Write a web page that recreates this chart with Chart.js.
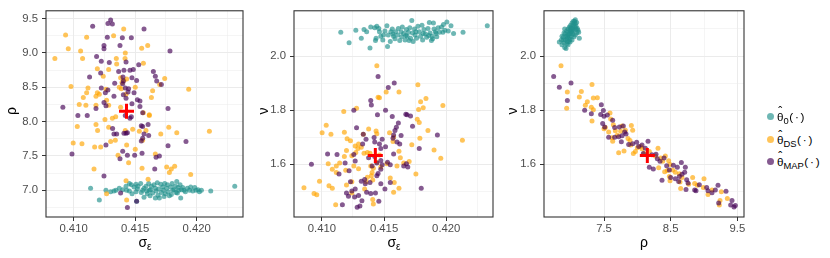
<!DOCTYPE html>
<html><head><meta charset="utf-8">
<script src="https://cdn.jsdelivr.net/npm/chart.js@4.4.1/dist/chart.umd.min.js"></script>
<style>
html,body{margin:0;padding:0;background:#fff;}
body{width:830px;height:258px;position:relative;overflow:hidden;font-family:"Liberation Sans",Arial,sans-serif;}
.cv{position:absolute;top:0;height:258px;width:250px;}
.t{position:absolute;color:#000;font-size:14px;line-height:14px;white-space:nowrap;}
.t sub{font-size:10px;vertical-align:-3px;line-height:0;}
.yt{position:absolute;color:#000;font-size:14px;line-height:14px;transform:translate(-50%,-50%) rotate(-90deg);}
.key{position:absolute;width:7px;height:7px;border-radius:50%;}
.lg{position:absolute;color:#000;font-size:11.7px;line-height:12px;white-space:nowrap;}
.lg sub{font-size:9.4px;vertical-align:-3px;line-height:0;}
.lg .th{position:relative;display:inline-block;}
.lg .hat{position:absolute;left:0;right:0;top:-4.5px;text-align:center;font-size:12px;line-height:12px;}
.lg .arg{letter-spacing:1.8px;margin-left:0.5px;}
</style></head><body>
<div class="cv" style="left:0"><canvas id="c1" width="250" height="258"></canvas></div>
<div class="cv" style="left:250px"><canvas id="c2" width="250" height="258"></canvas></div>
<div class="cv" style="left:500px"><canvas id="c3" width="250" height="258"></canvas></div>

<div class="t" style="left:145px;top:235px;transform:translateX(-50%)">σ<sub>ε</sub></div>
<div class="t" style="left:394px;top:235px;transform:translateX(-50%)">σ<sub>ε</sub></div>
<div class="t" style="left:644px;top:235px;transform:translateX(-50%)">ρ</div>
<div class="yt" style="left:11px;top:111px">ρ</div>
<div class="yt" style="left:263px;top:111px">ν</div>
<div class="yt" style="left:512px;top:111px">ν</div>

<div class="key" style="left:766.5px;top:112.5px;background:rgba(33,144,140,0.65)"></div>
<div class="key" style="left:766.5px;top:135.5px;background:rgba(255,165,0,0.65)"></div>
<div class="key" style="left:766.5px;top:157.5px;background:rgba(68,1,84,0.65)"></div>
<div class="lg" style="left:777px;top:110.5px"><span class="th">θ<span class="hat">ˆ</span></span><sub>0</sub><span class="arg">(·)</span></div>
<div class="lg" style="left:777px;top:134px"><span class="th">θ<span class="hat">ˆ</span></span><sub>DS</sub><span class="arg">(·)</span></div>
<div class="lg" style="left:777px;top:155.5px"><span class="th">θ<span class="hat">ˆ</span></span><sub>MAP</sub><span class="arg">(·)</span></div>

<script>
// ---- tick labels ----
const sigmaTicks = [0.410, 0.415, 0.420];
const sigmaTickLabels = ["0.410", "0.415", "0.420"];
const sigmaMinor = [0.4125, 0.4175, 0.4225];
const rhoTicks = [7.0, 7.5, 8.0, 8.5, 9.0, 9.5];
const rhoTickLabels = ["7.0", "7.5", "8.0", "8.5", "9.0", "9.5"];
const rhoMinor = [6.75, 7.25, 7.75, 8.25, 8.75, 9.25];
const rhoXTicks = [7.5, 8.5, 9.5];
const rhoXTickLabels = ["7.5", "8.5", "9.5"];
const rhoXMinor = [7.0, 8.0, 9.0];
const nuTicks = [1.6, 1.8, 2.0];
const nuTickLabels = ["1.6", "1.8", "2.0"];
const nuMinor = [1.5, 1.7, 1.9, 2.1];

// ---- true parameter (red cross) ----
const truthSigma = [0.4143];
const truthRho = [8.15];
const truthNu = [1.632];

// ---- panel 1: (sigma_eps, rho) ----
const p1Theta0 = [[0.41138,7.03],[0.41209,6.86],[0.41263,7.00],[0.41301,6.98],[0.41328,6.99],[0.41344,7.00],[0.41371,7.03],[0.41399,7.01],[0.41426,7.06],[0.41453,7.10],[0.41469,7.08],[0.41491,7.05],[0.41507,7.09],[0.41518,7.02],[0.41545,7.10],[0.41561,7.00],[0.41572,7.03],[0.41588,7.06],[0.41599,6.95],[0.41610,7.10],[0.41615,7.00],[0.41626,7.01],[0.41632,7.06],[0.41642,6.96],[0.41653,7.08],[0.41664,7.03],[0.41670,6.99],[0.41680,7.11],[0.41691,7.02],[0.41697,6.89],[0.41708,7.09],[0.41713,6.97],[0.41724,7.05],[0.41729,7.00],[0.41740,7.10],[0.41745,6.95],[0.41756,7.03],[0.41762,7.08],[0.41767,6.98],[0.41778,6.92],[0.41789,7.05],[0.41800,7.10],[0.41805,7.00],[0.41816,7.01],[0.41827,7.06],[0.41838,7.13],[0.41843,6.96],[0.41848,7.04],[0.41854,7.00],[0.41865,7.08],[0.41870,6.89],[0.41876,7.01],[0.41886,7.04],[0.41897,7.00],[0.41908,6.98],[0.41924,7.03],[0.41941,7.00],[0.41951,7.05],[0.41968,6.99],[0.41984,7.04],[0.41995,7.00],[0.42011,7.01],[0.42022,6.98],[0.42038,7.00],[0.42114,6.99],[0.42309,7.06],[0.41512,6.84],[0.41453,6.99],[0.41475,6.95],[0.41550,6.97],[0.41594,6.99],[0.41621,6.92],[0.41686,6.93],[0.41735,6.91],[0.41794,6.94],[0.41832,6.97],[0.41507,6.98],[0.41431,7.00],[0.41523,7.06],[0.41572,6.90],[0.41664,6.89]];
const p1DS = [[0.41407,9.35],[0.40935,9.26],[0.41106,9.23],[0.41325,9.25],[0.40957,9.06],[0.41057,9.03],[0.40848,8.92],[0.41073,8.92],[0.41420,9.00],[0.41553,9.07],[0.41602,9.11],[0.41347,8.92],[0.41418,8.92],[0.41567,8.85],[0.41193,8.77],[0.41285,8.76],[0.41350,8.84],[0.41241,8.66],[0.41382,8.64],[0.41431,8.62],[0.41409,8.60],[0.41393,8.57],[0.41740,8.63],[0.41699,8.54],[0.40979,8.51],[0.41117,8.49],[0.41263,8.47],[0.41371,8.50],[0.41388,8.48],[0.41501,8.50],[0.41642,8.45],[0.41935,8.47],[0.41106,8.42],[0.41193,8.42],[0.41209,8.40],[0.41182,8.37],[0.41079,8.35],[0.41426,8.40],[0.41268,8.31],[0.41632,8.35],[0.41046,8.25],[0.41100,8.24],[0.41182,8.24],[0.41285,8.24],[0.41382,8.21],[0.41567,8.13],[0.41615,8.10],[0.41255,8.03],[0.41315,8.05],[0.41342,8.07],[0.41615,8.09],[0.41030,7.93],[0.41182,7.96],[0.41195,7.87],[0.41285,7.92],[0.41480,7.89],[0.41420,7.87],[0.41534,7.86],[0.41588,7.87],[0.41773,7.92],[0.41708,7.82],[0.41838,7.84],[0.42103,7.86],[0.40997,7.69],[0.41068,7.68],[0.41171,7.63],[0.41220,7.63],[0.41301,7.71],[0.41339,7.73],[0.41431,7.66],[0.41561,7.73],[0.41501,7.60],[0.41361,7.51],[0.41447,7.40],[0.41664,7.53],[0.41166,7.31],[0.41556,7.32],[0.41756,7.34],[0.41821,7.35],[0.41778,7.26],[0.41794,7.31],[0.41951,7.23],[0.41605,7.16],[0.41426,7.14],[0.41268,6.95],[0.41431,6.86]];
const p1MAP = [[0.41301,9.48],[0.41279,9.43],[0.41315,9.42],[0.41155,9.39],[0.41572,9.35],[0.41274,9.23],[0.41396,9.22],[0.41469,9.22],[0.41247,9.11],[0.41247,9.06],[0.41377,9.11],[0.41783,9.03],[0.41187,8.95],[0.41225,8.88],[0.41426,8.87],[0.41290,8.86],[0.41529,8.83],[0.41409,8.75],[0.41458,8.75],[0.41485,8.76],[0.41366,8.73],[0.41220,8.71],[0.41648,8.73],[0.41664,8.66],[0.41675,8.59],[0.41713,8.54],[0.41130,8.65],[0.41401,8.65],[0.41474,8.64],[0.41512,8.60],[0.41334,8.56],[0.41404,8.59],[0.41225,8.49],[0.41279,8.46],[0.41420,8.49],[0.41447,8.48],[0.41258,8.42],[0.41491,8.42],[0.41404,8.39],[0.41328,8.37],[0.41426,8.34],[0.41518,8.32],[0.41539,8.30],[0.41247,8.28],[0.41263,8.23],[0.41474,8.26],[0.41539,8.22],[0.41767,8.19],[0.40913,8.21],[0.41182,8.19],[0.41561,8.13],[0.41035,8.09],[0.41111,8.09],[0.41442,8.43],[0.41399,8.55],[0.41420,8.09],[0.41458,8.05],[0.41469,8.07],[0.41550,7.94],[0.41561,7.93],[0.41605,7.96],[0.41572,7.82],[0.41610,7.80],[0.41317,7.90],[0.41328,7.82],[0.41350,7.82],[0.41409,7.83],[0.41426,7.83],[0.41437,7.84],[0.41550,7.72],[0.41263,7.66],[0.41767,7.65],[0.41913,7.71],[0.41399,7.57],[0.41377,7.46],[0.41437,7.51],[0.41496,7.51],[0.41556,7.54],[0.41697,7.50],[0.41670,7.48],[0.40987,7.53],[0.41247,7.21],[0.41659,7.31],[0.41382,6.96],[0.41512,6.84],[0.41437,6.75],[0.41561,7.76]];

// ---- panel 2: (sigma_eps, nu) ----
const p2Theta0 = [[0.41152,2.088],[0.41219,2.049],[0.41273,2.095],[0.41317,2.066],[0.41339,2.098],[0.41360,2.090],[0.41387,2.030],[0.41393,2.107],[0.41425,2.105],[0.41442,2.110],[0.41436,2.066],[0.41431,2.057],[0.41463,2.090],[0.41474,2.073],[0.41490,2.059],[0.41507,2.093],[0.41523,2.112],[0.41528,2.035],[0.41534,2.078],[0.41550,2.054],[0.41555,2.090],[0.41566,2.100],[0.41577,2.073],[0.41588,2.064],[0.41593,2.090],[0.41610,2.078],[0.41615,2.102],[0.41626,2.057],[0.41637,2.090],[0.41642,2.071],[0.41647,2.107],[0.41658,2.083],[0.41669,2.059],[0.41680,2.098],[0.41685,2.073],[0.41696,2.088],[0.41707,2.105],[0.41713,2.066],[0.41723,2.131],[0.41729,2.085],[0.41734,2.054],[0.41745,2.100],[0.41750,2.078],[0.41761,2.066],[0.41772,2.110],[0.41783,2.090],[0.41794,2.073],[0.41805,2.114],[0.41810,2.059],[0.41821,2.098],[0.41832,2.081],[0.41843,2.069],[0.41853,2.102],[0.41864,2.124],[0.41870,2.085],[0.41881,2.057],[0.41886,2.073],[0.41897,2.122],[0.41902,2.100],[0.41913,2.090],[0.41924,2.071],[0.41935,2.105],[0.41946,2.088],[0.41962,2.107],[0.41973,2.088],[0.41978,2.117],[0.41989,2.095],[0.42005,2.126],[0.42016,2.093],[0.42038,2.112],[0.42059,2.083],[0.42135,2.088],[0.42330,2.112],[0.41458,2.102],[0.41496,2.078],[0.41572,2.081],[0.41675,2.076],[0.41702,2.057],[0.41756,2.090],[0.41815,2.083],[0.41859,2.076],[0.41891,2.064],[0.41918,2.083]];
const p2DS = [[0.41442,1.964],[0.41620,1.867],[0.41517,1.867],[0.41452,1.848],[0.41463,1.846],[0.41772,1.894],[0.41794,1.831],[0.41837,1.843],[0.41815,1.809],[0.41778,1.802],[0.41973,1.817],[0.41176,1.795],[0.41279,1.807],[0.41767,1.766],[0.41783,1.754],[0.41853,1.725],[0.41035,1.744],[0.41002,1.716],[0.41073,1.711],[0.41181,1.718],[0.41203,1.694],[0.41230,1.687],[0.41295,1.675],[0.41333,1.711],[0.41376,1.730],[0.41436,1.723],[0.41442,1.713],[0.41544,1.716],[0.41577,1.701],[0.41572,1.684],[0.41723,1.672],[0.41788,1.696],[0.41902,1.653],[0.41956,1.622],[0.42130,1.689],[0.41268,1.667],[0.41290,1.658],[0.41317,1.663],[0.41339,1.641],[0.41366,1.643],[0.41273,1.643],[0.41241,1.631],[0.41198,1.651],[0.41181,1.629],[0.41143,1.605],[0.41051,1.602],[0.41116,1.593],[0.41084,1.581],[0.41116,1.569],[0.41192,1.578],[0.41257,1.593],[0.41295,1.583],[0.41393,1.593],[0.41414,1.585],[0.41404,1.569],[0.41631,1.624],[0.41658,1.605],[0.41702,1.610],[0.41756,1.564],[0.40981,1.537],[0.41057,1.520],[0.41084,1.511],[0.40856,1.513],[0.40937,1.492],[0.40959,1.487],[0.41198,1.523],[0.41241,1.535],[0.41355,1.535],[0.41398,1.557],[0.41366,1.552],[0.41409,1.542],[0.41550,1.549],[0.41582,1.532],[0.41620,1.511],[0.41577,1.496],[0.41111,1.450],[0.41409,1.470],[0.41414,1.453],[0.41241,1.494],[0.41344,1.508],[0.41442,1.607],[0.41474,1.590],[0.41523,1.602],[0.41604,1.593],[0.41387,1.641],[0.41463,1.634],[0.41620,1.648]];
const p2MAP = [[0.41452,1.924],[0.41582,1.900],[0.41534,1.884],[0.41393,1.836],[0.41398,1.819],[0.41257,1.800],[0.41512,1.800],[0.41447,1.783],[0.41675,1.785],[0.41685,1.783],[0.41713,1.778],[0.41566,1.776],[0.41615,1.752],[0.41599,1.737],[0.41588,1.725],[0.41577,1.708],[0.41572,1.696],[0.41729,1.740],[0.41485,1.692],[0.41420,1.699],[0.41279,1.735],[0.41333,1.711],[0.41355,1.692],[0.41328,1.675],[0.41425,1.682],[0.41463,1.675],[0.41474,1.658],[0.41512,1.665],[0.41626,1.675],[0.41604,1.682],[0.41637,1.706],[0.41929,1.708],[0.41783,1.658],[0.41046,1.638],[0.41122,1.636],[0.41257,1.636],[0.41268,1.612],[0.41187,1.605],[0.41376,1.624],[0.41425,1.629],[0.41442,1.605],[0.41474,1.614],[0.41528,1.607],[0.41550,1.598],[0.41577,1.638],[0.41485,1.598],[0.41404,1.593],[0.41680,1.602],[0.41691,1.590],[0.41658,1.593],[0.40916,1.600],[0.41138,1.564],[0.41219,1.576],[0.41230,1.535],[0.41344,1.544],[0.41474,1.581],[0.41452,1.566],[0.41442,1.557],[0.41349,1.528],[0.41317,1.537],[0.41387,1.532],[0.41474,1.528],[0.41507,1.508],[0.41550,1.532],[0.41799,1.511],[0.41198,1.494],[0.41241,1.501],[0.41263,1.479],[0.41295,1.484],[0.41268,1.508],[0.41360,1.496],[0.41393,1.492],[0.41431,1.494],[0.41165,1.450],[0.41284,1.441],[0.41306,1.446],[0.41322,1.465],[0.41214,1.482],[0.41458,1.463]];

// ---- panel 3: (rho, nu) ----
const p3Theta0 = [[6.83,2.052],[6.86,2.059],[6.89,2.069],[6.91,2.032],[6.93,2.028],[6.94,2.045],[6.90,2.049],[6.87,2.042],[6.92,2.059],[6.95,2.064],[6.93,2.073],[6.96,2.078],[6.97,2.088],[6.99,2.095],[7.00,2.083],[6.98,2.069],[7.01,2.102],[7.02,2.090],[7.03,2.105],[7.04,2.114],[7.05,2.122],[7.06,2.129],[7.07,2.119],[7.08,2.110],[7.09,2.124],[7.10,2.102],[7.11,2.095],[7.12,2.088],[7.13,2.066],[7.07,2.078],[7.05,2.095],[7.03,2.081],[7.01,2.073],[6.99,2.061],[6.97,2.054],[6.95,2.054],[6.92,2.083],[6.94,2.093],[6.96,2.100],[6.98,2.107],[7.00,2.114],[7.02,2.122],[7.04,2.129],[7.06,2.107],[7.08,2.100],[7.09,2.085],[7.05,2.071],[7.02,2.059],[6.99,2.052],[6.96,2.042],[6.89,2.059],[6.87,2.073],[6.90,2.085],[6.91,2.100],[7.07,2.134],[7.01,2.090],[6.98,2.081],[6.95,2.071],[7.03,2.097],[7.00,2.105]];
const p3DS = [[6.855,1.964],[7.32,1.895],[7.16,1.869],[6.95,1.867],[7.13,1.849],[7.34,1.845],[7.40,1.846],[6.94,1.807],[7.25,1.831],[7.22,1.818],[7.31,1.811],[7.34,1.801],[7.59,1.789],[7.32,1.760],[7.52,1.736],[7.50,1.731],[7.60,1.767],[7.67,1.724],[7.82,1.726],[7.91,1.743],[7.93,1.726],[7.86,1.695],[7.89,1.688],[7.63,1.685],[7.62,1.698],[7.72,1.642],[7.80,1.649],[7.94,1.640],[7.97,1.647],[8.00,1.661],[7.90,1.671],[8.05,1.666],[8.07,1.657],[8.18,1.647],[8.31,1.659],[8.27,1.630],[8.35,1.623],[8.38,1.611],[8.42,1.630],[8.47,1.613],[8.49,1.599],[8.45,1.577],[8.41,1.572],[8.53,1.579],[8.32,1.587],[8.57,1.570],[8.63,1.565],[8.67,1.551],[8.48,1.555],[8.49,1.539],[8.64,1.534],[8.83,1.551],[8.86,1.529],[8.90,1.522],[9.00,1.546],[8.99,1.514],[9.06,1.488],[9.12,1.505],[9.26,1.498],[9.24,1.466],[9.35,1.473],[9.23,1.449],[8.65,1.510],[8.77,1.526],[8.10,1.640],[7.77,1.741],[7.75,1.722],[7.64,1.746],[7.57,1.719],[7.70,1.707]];
const p3MAP = [[6.745,1.924],[6.83,1.885],[7.005,1.900],[6.95,1.836],[7.46,1.820],[7.21,1.800],[7.49,1.799],[7.31,1.787],[7.45,1.784],[7.50,1.777],[7.55,1.782],[7.63,1.763],[7.48,1.751],[7.51,1.738],[7.66,1.736],[7.73,1.738],[7.79,1.741],[7.81,1.719],[7.83,1.712],[7.77,1.705],[7.72,1.702],[7.57,1.700],[7.66,1.700],[7.76,1.683],[7.87,1.673],[7.93,1.676],[7.99,1.681],[8.02,1.666],[8.07,1.671],[8.12,1.659],[8.16,1.685],[8.09,1.640],[8.22,1.635],[8.28,1.637],[8.30,1.620],[8.34,1.611],[8.40,1.623],[8.44,1.594],[8.48,1.579],[8.54,1.596],[8.60,1.589],[8.66,1.606],[8.72,1.589],[8.71,1.570],[8.67,1.563],[8.63,1.555],[8.57,1.546],[8.37,1.541],[8.50,1.551],[8.62,1.536],[8.74,1.543],[8.76,1.531],[8.73,1.507],[8.86,1.505],[8.88,1.502],[8.93,1.524],[9.04,1.514],[9.06,1.502],[9.12,1.495],[9.17,1.505],[9.21,1.522],[9.33,1.500],[9.22,1.457],[9.42,1.466],[9.40,1.449],[9.45,1.442],[9.47,1.447],[8.24,1.582],[8.18,1.589]];

// ---- styling ----
const FONT = "'Liberation Sans', Arial, sans-serif";
const COL0 = 'rgba(33,144,140,0.65)';
const COLDS = 'rgba(255,165,0,0.65)';
const COLMAP = 'rgba(68,1,84,0.65)';

const framePlugin = {
  id: 'frame',
  afterDraw(chart) {
    const {ctx, chartArea: a} = chart;
    ctx.save();
    ctx.strokeStyle = '#333333';
    ctx.lineWidth = 1.1;
    ctx.strokeRect(a.left, a.top, a.right - a.left, a.bottom - a.top);
    ctx.restore();
  }
};

function near(a, b) { return Math.abs(a - b) < 1e-7; }

function axis(min, max, major, labels, minor, isX, size) {
  const all = major.concat(minor).filter(v => v > min && v < max).sort((a, b) => a - b);
  const isMajor = v => major.some(m => near(m, v));
  return {
    type: 'linear', min: min, max: max, position: isX ? 'bottom' : 'left',
    afterBuildTicks: s => { s.ticks = all.map(v => ({value: v})); },
    afterFit: s => { if (isX) s.height = size; else s.width = size; },
    ticks: {
      autoSkip: false, maxRotation: 0, minRotation: 0,
      padding: isX ? 1 : 4, color: '#4D4D4D',
      font: {family: FONT, size: 11.3},
      callback: v => { const i = major.findIndex(m => near(m, v)); return i >= 0 ? labels[i] : ''; }
    },
    grid: {
      drawTicks: true, tickLength: 4, tickWidth: 1,
      color: c => '#EBEBEB',
      lineWidth: c => (c.tick && isMajor(c.tick.value)) ? 1 : 0.5,
      tickColor: c => (c.tick && isMajor(c.tick.value)) ? '#333333' : 'rgba(0,0,0,0)'
    },
    border: {display: false}
  };
}

function pts(arr) { return arr.map(p => ({x: p[0], y: p[1]})); }

function panel(id, teal, ds, map, truth, xAxis, yAxis, padRight) {
  new Chart(document.getElementById(id), {
    type: 'scatter',
    data: {
      datasets: [
        {data: pts(truth), pointStyle: 'cross', pointRadius: 7.5, pointBorderWidth: 3,
         pointBorderColor: '#FF0000', pointBackgroundColor: 'rgba(0,0,0,0)', order: 0},
        {data: pts(map), pointRadius: 2.5, pointBorderWidth: 0, pointBackgroundColor: COLMAP, pointBorderColor: 'rgba(0,0,0,0)', order: 1},
        {data: pts(ds), pointRadius: 2.5, pointBorderWidth: 0, pointBackgroundColor: COLDS, pointBorderColor: 'rgba(0,0,0,0)', order: 2},
        {data: pts(teal), pointRadius: 2.5, pointBorderWidth: 0, pointBackgroundColor: COL0, pointBorderColor: 'rgba(0,0,0,0)', order: 3}
      ]
    },
    options: {
      responsive: false, animation: false, events: [],
      layout: {autoPadding: false, padding: {top: 6, right: padRight, left: 0, bottom: 0}},
      plugins: {legend: {display: false}, tooltip: {enabled: false}},
      scales: {x: xAxis, y: yAxis}
    },
    plugins: [framePlugin]
  });
}

const SMIN = 0.40776, SMAX = 0.42376;
const RMIN = 6.612, RMAX = 9.614;
const NMIN = 1.4049, NMAX = 2.1673;

panel('c1', p1Theta0, p1DS, p1MAP, [[truthSigma[0], truthRho[0]]],
  axis(SMIN, SMAX, sigmaTicks, sigmaTickLabels, sigmaMinor, true, 41),
  axis(RMIN, RMAX, rhoTicks, rhoTickLabels, rhoMinor, false, 46), 7);
panel('c2', p2Theta0, p2DS, p2MAP, [[truthSigma[0], truthNu[0]]],
  axis(SMIN, SMAX, sigmaTicks, sigmaTickLabels, sigmaMinor, true, 41),
  axis(NMIN, NMAX, nuTicks, nuTickLabels, nuMinor, false, 44), 7);
panel('c3', p3Theta0, p3DS, p3MAP, [[truthRho[0], truthNu[0]]],
  axis(6.6, 9.6, rhoXTicks, rhoXTickLabels, rhoXMinor, true, 41),
  axis(NMIN, NMAX, nuTicks, nuTickLabels, nuMinor, false, 44), 6);
</script>
</body></html>
